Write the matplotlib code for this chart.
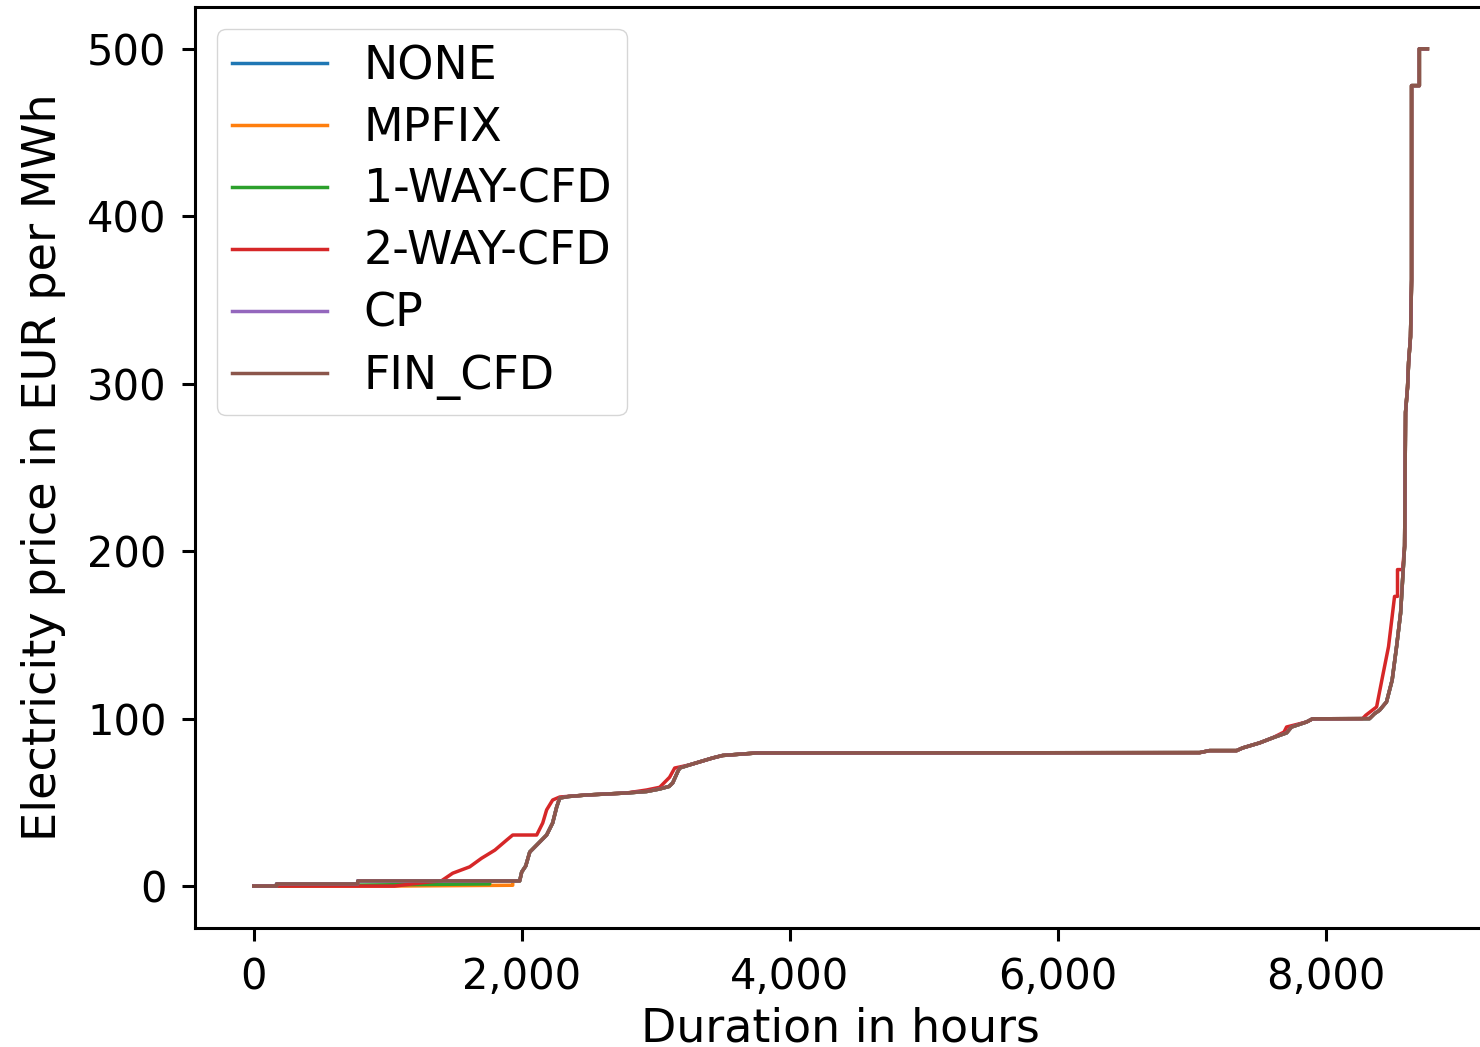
import matplotlib
matplotlib.use("Agg")
import matplotlib.pyplot as plt
from matplotlib.ticker import StrMethodFormatter

# Preisdauerlinien (Stunden sortiert, Preis in EUR/MWh)
FIN_HOURS = [0, 170, 170, 776, 776, 1985, 2000, 2030, 2060, 2112, 2186, 2231, 2261, 2284,
             2350, 2485, 2783, 2933, 3030, 3100, 3127, 3164, 3179, 3254, 3425, 3500, 3754,
             7060, 7134, 7336, 7381, 7507, 7604, 7709, 7746, 7858, 7903, 8328, 8366, 8403,
             8455, 8497, 8530, 8560, 8575, 8590, 8597, 8612, 8620, 8634, 8642, 8642, 8700,
             8700, 8760]
FIN_PRICES = [0, 0, 1.3, 1.3, 3.1, 3.1, 8.4, 12, 20.3, 24.5, 30.5, 37.7, 47.2, 52.6,
              53.5, 54.4, 55.6, 56.5, 58, 59.5, 61.6, 68.2, 70.5, 72.4, 76.5, 78, 79.5,
              79.7, 80.9, 80.9, 82.5, 85.5, 88.5, 91.5, 95, 98, 99.9, 100, 103, 105,
              110, 123, 143, 163, 183, 203, 283, 298, 313, 328, 362, 478, 478,
              500, 500]

TWO_WAY_HOURS = [0, 1050, 1300, 1400, 1485, 1612, 1700, 1739, 1800, 1888, 1933, 2112, 2157,
                 2186, 2231, 2284, 2485, 2783, 2933, 3030, 3104, 3142, 3254, 3425, 3500, 3754,
                 7060, 7134, 7336, 7381, 7507, 7604, 7690, 7709, 7858, 7903, 8276, 8300, 8381,
                 8425, 8470, 8500, 8515, 8537, 8537, 8575, 8590, 8597, 8612, 8620, 8634, 8642,
                 8642, 8700, 8700, 8760]
TWO_WAY_PRICES = [0, 0, 2.4, 3.1, 7.7, 11.5, 16.6, 18.5, 21.5, 27.5, 30.5, 30.5, 37.7,
                  45.5, 51.4, 53.2, 54.4, 55.6, 57.4, 59, 65, 70.5, 72.4, 76.5, 78, 79.5,
                  79.7, 80.9, 80.9, 82.5, 85.5, 88.5, 92, 95, 98, 99.9, 100, 102, 107,
                  125, 143, 163, 173, 173, 189, 189, 203, 283, 298, 313, 328, 362,
                  478, 478, 500, 500]

MPFIX_LOW_HOURS = [0, 1000, 1933, 1933]
MPFIX_LOW_PRICES = [0, 0, 0.5, 3.1]
ONE_WAY_LOW_HOURS = [0, 1030, 1761, 1761]
ONE_WAY_LOW_PRICES = [0, 0.8, 1.3, 3.1]

tail = FIN_HOURS.index(1985)
SERIES = {
    "NONE": (FIN_HOURS, FIN_PRICES),
    "MPFIX": (MPFIX_LOW_HOURS + FIN_HOURS[tail:], MPFIX_LOW_PRICES + FIN_PRICES[tail:]),
    "1-WAY-CFD": (ONE_WAY_LOW_HOURS + FIN_HOURS[tail:], ONE_WAY_LOW_PRICES + FIN_PRICES[tail:]),
    "2-WAY-CFD": (TWO_WAY_HOURS, TWO_WAY_PRICES),
    "CP": (FIN_HOURS, FIN_PRICES),
    "FIN_CFD": (FIN_HOURS, FIN_PRICES),
}

plt.rcParams["axes.linewidth"] = 2.2
plt.rcParams["xtick.major.width"] = 2.2
plt.rcParams["ytick.major.width"] = 2.2
plt.rcParams["xtick.major.size"] = 9.4
plt.rcParams["ytick.major.size"] = 9.4
plt.rcParams["xtick.major.pad"] = 11
plt.rcParams["ytick.major.pad"] = 11

fig = plt.figure(figsize=(14.8, 10.47), dpi=100)
ax = fig.add_axes([0.1318, 0.1137, 0.8723, 0.8797])

for name, (hours, prices) in SERIES.items():
    ax.plot(hours, prices, lw=2.5, label=name)

ax.xaxis.set_major_formatter(StrMethodFormatter("{x:,.0f}"))
ax.tick_params(labelsize=30)
ax.set_xlabel("Duration in hours", fontsize=33, labelpad=6)
ax.set_ylabel("Electricity price in EUR per MWh", fontsize=33.3, labelpad=15)
ax.legend(loc="upper left", fontsize=33, handlelength=2.07, labelspacing=0.37,
          borderaxespad=0.48, borderpad=0.33)

fig.savefig("out.png", dpi=100)
